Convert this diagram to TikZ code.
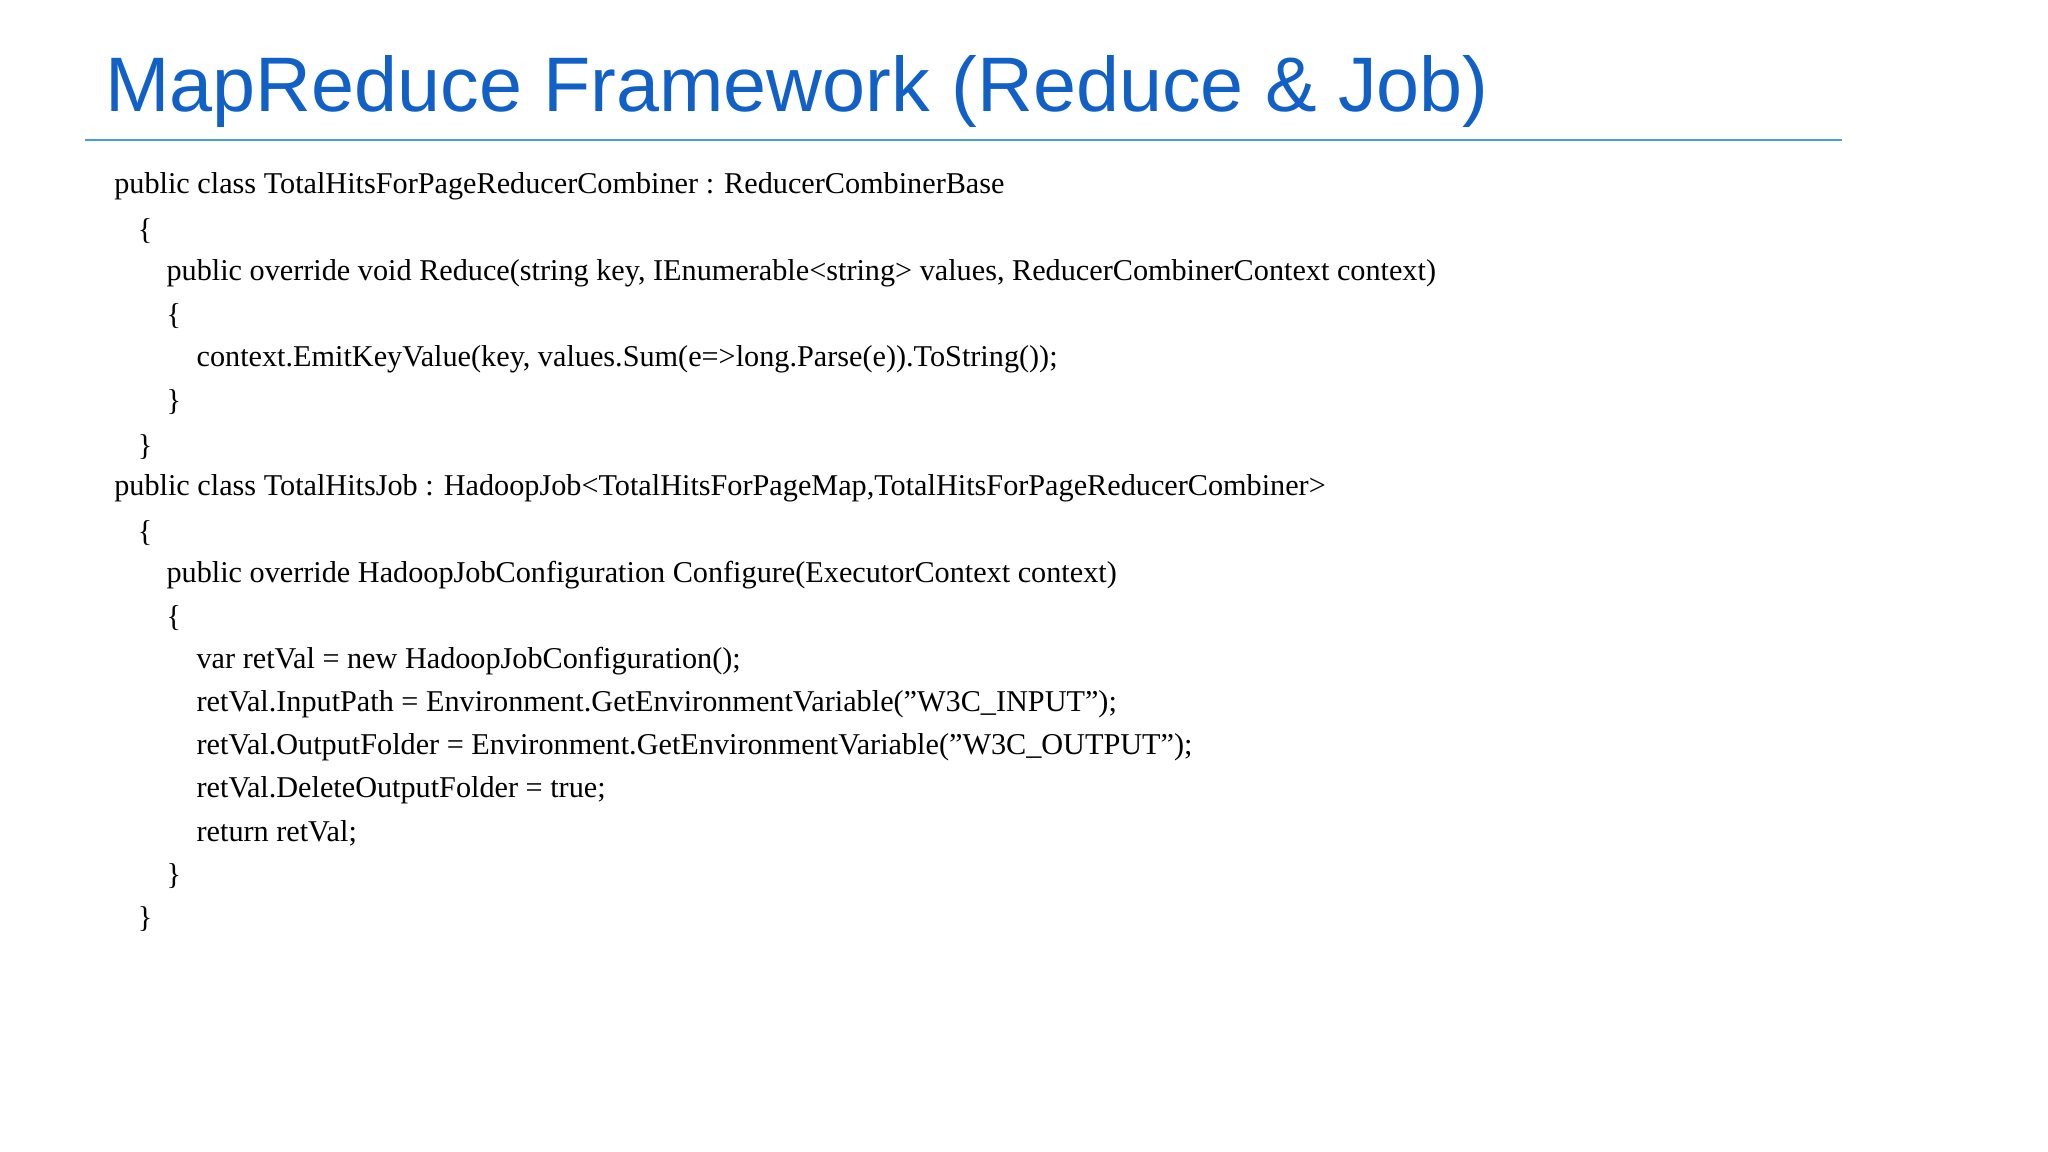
\documentclass[tikz,border=0pt]{standalone}
\usepackage{fontspec}
\setmainfont{Liberation Serif}
\newfontfamily\titlefont{Liberation Sans}
\usetikzlibrary{positioning}
\definecolor{titleblue}{RGB}{16,96,200}
\definecolor{ruleblue}{RGB}{70,160,215}
\begin{document}
\begin{tikzpicture}[%
    x=0.01306cm,
    y=-0.01306cm,
    codeline/.style={%
      anchor=west,
      inner sep=0pt,
      font=\fontsize{8.6pt}{10pt}\selectfont
    }
  ]
    \useasboundingbox (0,0) rectangle (1568,882);
    \node[anchor=west,inner sep=0pt,text=titleblue,font=\titlefont\fontsize{22pt}{26pt}\selectfont]
      (title) at (80,70) {MapReduce Framework (Reduce \& Job)};
    \coordinate (ruleL) at (65,107);
    \coordinate (ruleR) at (1410,107);
    \draw[ruleblue,line width=0.6pt] (ruleL) -- (ruleR);

    % reducer class
    \node[codeline] (l1) at (87,143) {public class TotalHitsForPageReducerCombiner : ReducerCombinerBase};
    \node[codeline] (l2) at (105,177) {\{};
    \node[codeline] (l3) at (127,209) {public override void Reduce(string key, IEnumerable<string> values, ReducerCombinerContext context)};
    \node[codeline] (l4) at (127,242) {\{};
    \node[codeline] (l5) at (150,275) {context.EmitKeyValue(key, values.Sum(e=>long.Parse(e)).ToString());};
    \node[codeline] (l6) at (127,308) {\}};
    \node[codeline] (l7) at (105,342) {\}};
    % job class
    \node[codeline] (l8) at (87,374) {public class TotalHitsJob : HadoopJob<TotalHitsForPageMap,TotalHitsForPageReducerCombiner>};
    \node[codeline] (l9) at (105,408) {\{};
    \node[codeline] (l10) at (127,440) {public override HadoopJobConfiguration Configure(ExecutorContext context)};
    \node[codeline] (l11) at (127,473) {\{};
    \node[codeline] (l12) at (150,506) {var retVal = new HadoopJobConfiguration();};
    \node[codeline] (l13) at (150,539) {retVal.InputPath = Environment.GetEnvironmentVariable("W3C\_INPUT");};
    \node[codeline] (l14) at (150,572) {retVal.OutputFolder = Environment.GetEnvironmentVariable("W3C\_OUTPUT");};
    \node[codeline] (l15) at (150,605) {retVal.DeleteOutputFolder = true;};
    \node[codeline] (l16) at (150,638) {return retVal;};
    \node[codeline] (l17) at (127,671) {\}};
    \node[codeline] (l18) at (105,704) {\}};
\end{tikzpicture}
\end{document}
